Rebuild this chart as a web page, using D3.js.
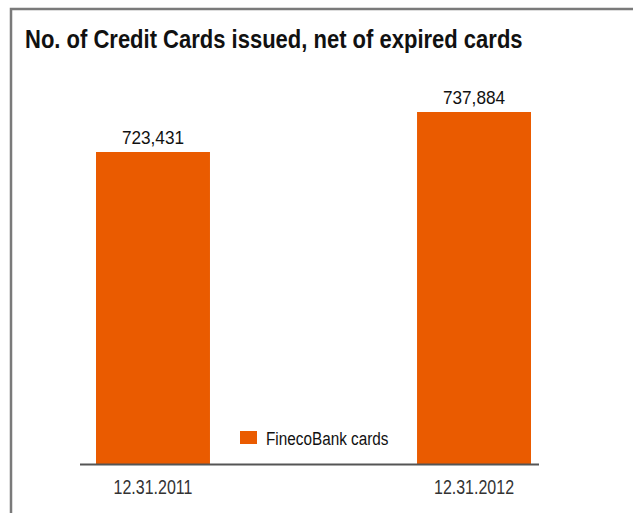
<!DOCTYPE html>
<html>
<head>
<meta charset="utf-8">
<script src="https://cdn.jsdelivr.net/npm/d3@7"></script>
<style>
  html, body { margin: 0; padding: 0; background: #fff; }
  svg { display: block; }
  text { font-family: "Liberation Sans", Arial, sans-serif; }
</style>
</head>
<body>
<script>
// Chart data
const title = "No. of Credit Cards issued, net of expired cards";
const categories = ["12.31.2011", "12.31.2012"];
const seriesName = "FinecoBank cards";
const values = [723431, 737884];
const valueLabels = ["723,431", "737,884"];

const W = 633, H = 513;
const orange = "#EA5B00";

// The typeface is a condensed grotesque; squeeze the regular face horizontally
function condense(factor) {
  return sel => sel.each(function () {
    const w = this.getComputedTextLength();
    d3.select(this)
      .attr("textLength", w * factor)
      .attr("lengthAdjust", "spacingAndGlyphs");
  });
}

const svg = d3.select("body").append("svg")
  .attr("width", W).attr("height", H);

// Frame: top and left edges visible, running off the right and bottom
svg.append("rect")
  .attr("x", 11).attr("y", 9)
  .attr("width", W + 20).attr("height", H + 20)
  .attr("fill", "none")
  .attr("stroke", "#7a7a7a")
  .attr("stroke-width", 2.5);

svg.append("text")
  .attr("x", 25).attr("y", 48)
  .attr("font-size", 25)
  .attr("font-weight", "bold")
  .attr("fill", "#111")
  .text(title)
  .call(condense(0.88));

// Scales: value axis is not anchored at zero
const x = d3.scaleBand()
  .domain(categories)
  .range([96, 531])
  .paddingInner(0.645)
  .paddingOuter(0);

const y = d3.scaleLinear()
  .domain([610700, 737884])
  .range([464, 112]);

const data = categories.map((c, i) => ({ cat: c, v: values[i], label: valueLabels[i] }));

svg.append("g").selectAll("rect")
  .data(data)
  .join("rect")
  .attr("x", d => x(d.cat))
  .attr("y", d => y(d.v))
  .attr("width", x.bandwidth())
  .attr("height", d => y.range()[0] - y(d.v))
  .attr("fill", orange);

svg.append("g").selectAll("text")
  .data(data)
  .join("text")
  .attr("x", d => x(d.cat) + x.bandwidth() / 2)
  .attr("y", d => y(d.v) - 8)
  .attr("text-anchor", "middle")
  .attr("font-size", 18.5)
  .attr("fill", "#111")
  .text(d => d.label)
  .call(condense(0.93));

// Category axis
const xAxis = svg.append("g")
  .attr("transform", `translate(0,${y.range()[0]})`)
  .call(d3.axisBottom(x).tickSize(0).tickPadding(16));
xAxis.select(".domain").remove();
xAxis.selectAll("text")
  .attr("font-family", "Liberation Sans, Arial, sans-serif")
  .attr("font-size", 19.5)
  .attr("fill", "#333")
  .call(condense(0.82));

svg.append("line")
  .attr("x1", 80).attr("x2", 539)
  .attr("y1", 464.5).attr("y2", 464.5)
  .attr("stroke", "#555")
  .attr("stroke-width", 2);

// Legend
const legend = svg.append("g").attr("transform", "translate(240,431)");
legend.append("rect")
  .attr("width", 17).attr("height", 13)
  .attr("fill", orange);
legend.append("text")
  .attr("x", 26).attr("y", 14)
  .attr("font-size", 18)
  .attr("fill", "#111")
  .text(seriesName)
  .call(condense(0.85));
</script>
</body>
</html>
